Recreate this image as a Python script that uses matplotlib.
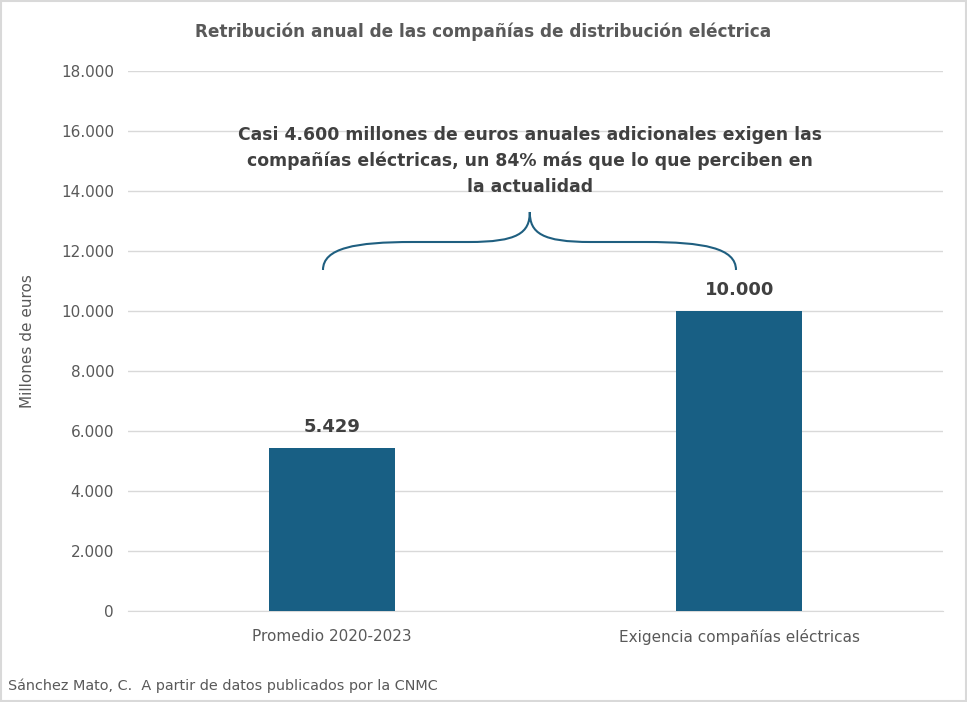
import matplotlib
matplotlib.use("Agg")
import matplotlib.pyplot as plt
from matplotlib.path import Path
from matplotlib.patches import PathPatch, Rectangle
from matplotlib.ticker import FuncFormatter

categories = ["Promedio 2020-2023", "Exigencia compañías eléctricas"]
values = [5429, 10000]
value_labels = ["5.429", "10.000"]
title = "Retribución anual de las compañías de distribución eléctrica"
ylabel = "Millones de euros"
annotation = ("Casi 4.600 millones de euros anuales adicionales exigen las\n"
              "compañías eléctricas, un 84% más que lo que perciben en\n"
              "la actualidad")
source = "Sánchez Mato, C.  A partir de datos publicados por la CNMC"

plt.rcParams['font.family'] = ['DejaVu Sans']
GRAY = '#595959'
DARK = '#404040'
BAR = '#185F84'

fig = plt.figure(figsize=(9.67, 7.02), dpi=100)
ax = fig.add_axes([128/967, 1-611/702, (943-128)/967, (611-71)/702])

x = list(range(len(categories)))
ax.bar(x, values, width=0.31, color=BAR, zorder=3)
ax.set_xlim(-0.5, 1.5)
ax.set_ylim(0, 18000)
ax.set_yticks(range(0, 18001, 2000))
ax.yaxis.set_major_formatter(FuncFormatter(lambda v, p: f"{int(v):,}".replace(",", ".")))
ax.set_xticks(x)
ax.set_xticklabels(categories)
ax.grid(axis='y', color='#D9D9D9', linewidth=1, zorder=0)
for s in ['top', 'right', 'left']:
    ax.spines[s].set_visible(False)
ax.spines['bottom'].set_color('#D9D9D9')
ax.tick_params(axis='both', length=0, labelsize=11, colors=GRAY, pad=10)
ax.tick_params(axis='x', pad=13)
ax.set_ylabel(ylabel, fontsize=11, color=GRAY, labelpad=19)

for xi, v, lab in zip(x, values, value_labels):
    ax.text(xi, v + 400, lab, ha='center', va='bottom', fontsize=13,
            fontweight='bold', color=DARK)

# brace
x0, x1, xm = -0.0215, 0.992, 0.486
yb, yh, yt = 11367, 12300, 13300
verts = [(x0, yb),
         (x0, yh - 200), (x0 + 0.08, yh), (x0 + 0.22, yh),
         (xm - 0.15, yh),
         (xm - 0.03, yh), (xm, yh + 300), (xm, yt),
         (xm, yh + 300), (xm + 0.03, yh), (xm + 0.15, yh),
         (x1 - 0.22, yh),
         (x1 - 0.08, yh), (x1, yh - 200), (x1, yb)]
codes = [Path.MOVETO,
         Path.CURVE4, Path.CURVE4, Path.CURVE4,
         Path.LINETO,
         Path.CURVE4, Path.CURVE4, Path.CURVE4,
         Path.CURVE4, Path.CURVE4, Path.CURVE4,
         Path.LINETO,
         Path.CURVE4, Path.CURVE4, Path.CURVE4]
ax.add_patch(PathPatch(Path(verts, codes), facecolor='none', edgecolor='#1F5F80',
                       linewidth=1.5, zorder=4))

ax.text(xm, 15000, annotation, ha='center', va='center', fontsize=12.4,
        fontweight='bold', color=DARK, linespacing=1.55, zorder=5)

fig.text(483/967, 1-32/702, title, ha='center', va='center', fontsize=12.2,
         fontweight='bold', color=GRAY)
fig.text(8/967, 1-686/702, source, ha='left', va='center', fontsize=10.4, color=GRAY)

fig.patches.append(Rectangle((0.0015, 0.002), 0.997, 0.996, transform=fig.transFigure,
                             fill=False, edgecolor='#D9D9D9', linewidth=1.5))

fig.savefig("out.png", dpi=100)
